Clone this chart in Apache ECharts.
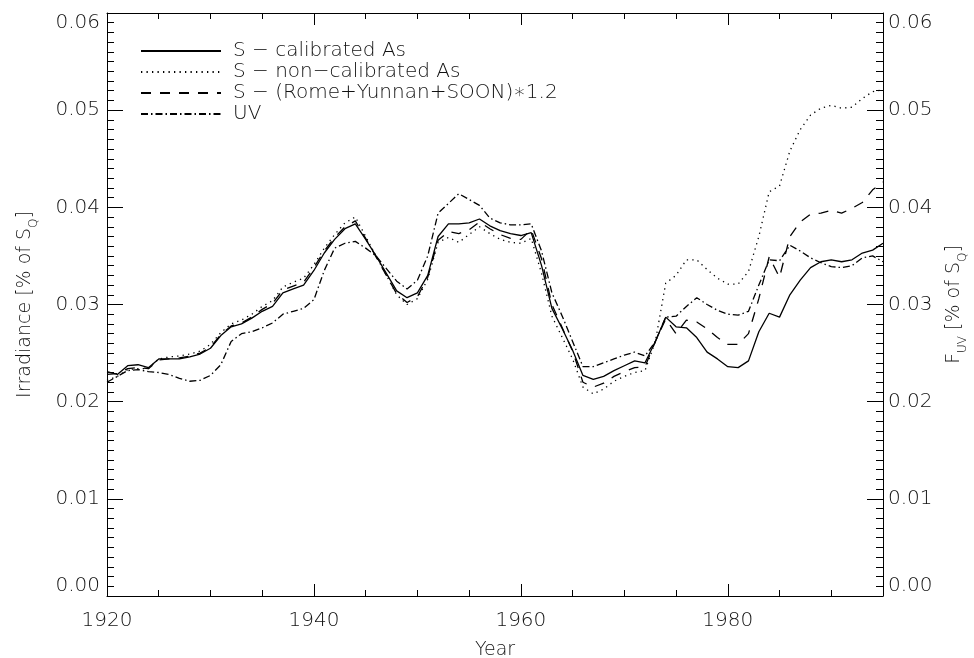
<!DOCTYPE html>
<html>
<head>
<meta charset="utf-8">
<script src="https://cdn.jsdelivr.net/npm/echarts@6/dist/echarts.min.js"></script>
<style>
html,body{margin:0;padding:0;background:#fff;}
#chart{width:974px;height:658px;}
</style>
</head>
<body>
<div id="chart"></div>
<script>
var years = [];
for (var y = 1920; y <= 1995; y++) years.push(y);

var sCalibrated = [
0.0231,0.0228,0.0237,0.0238,0.0235,0.0244,0.0244,0.0244,0.0246,0.0249,
0.0255,0.0268,0.0277,0.0280,0.0286,0.0293,0.0298,0.0312,0.0316,0.0320,
0.0335,0.0353,0.0367,0.0378,0.0383,0.0367,0.0350,0.0332,0.0314,0.0307,
0.0312,0.0330,0.0370,0.0383,0.0383,0.0384,0.0388,0.0381,0.0376,0.0373,
0.0371,0.0374,0.0340,0.0296,0.0275,0.0253,0.0227,0.0223,0.0226,0.0232,
0.0237,0.0242,0.0240,0.0262,0.0287,0.0277,0.0276,0.0266,0.0251,0.0244,
0.0236,0.0235,0.0242,0.0272,0.0291,0.0287,0.0310,0.0325,0.0338,0.0344,
0.0346,0.0344,0.0346,0.0353,0.0356,0.0363];

var sNonCalibrated = [
0.0222,0.0226,0.0233,0.0234,0.0234,0.0244,0.0246,0.0247,0.0249,0.0252,
0.0259,0.0271,0.0280,0.0284,0.0290,0.0298,0.0304,0.0318,0.0323,0.0327,
0.0341,0.0358,0.0372,0.0384,0.0390,0.0370,0.0350,0.0330,0.0310,0.0300,
0.0306,0.0326,0.0364,0.0369,0.0364,0.0372,0.0380,0.0373,0.0367,0.0364,
0.0363,0.0368,0.0332,0.0288,0.0266,0.0244,0.0215,0.0208,0.0213,0.0221,
0.0226,0.0230,0.0232,0.0262,0.0322,0.0330,0.0346,0.0346,0.0336,0.0327,
0.0321,0.0321,0.0334,0.0370,0.0416,0.0422,0.0458,0.0480,0.0495,0.0502,
0.0505,0.0502,0.0503,0.0512,0.0519,0.0521];

var sRome = [
0.0228,0.0229,0.0234,0.0235,0.0234,0.0243,0.0244,0.0245,0.0247,0.0250,
0.0256,0.0269,0.0278,0.0281,0.0287,0.0295,0.0301,0.0315,0.0319,0.0323,
0.0338,0.0355,0.0369,0.0380,0.0386,0.0368,0.0349,0.0330,0.0311,0.0302,
0.0308,0.0328,0.0366,0.0375,0.0373,0.0377,0.0385,0.0378,0.0372,0.0368,
0.0367,0.0377,0.0347,0.0300,0.0276,0.0252,0.0220,0.0215,0.0219,0.0226,
0.0231,0.0235,0.0236,0.0262,0.0285,0.0270,0.0284,0.0282,0.0275,0.0266,
0.0259,0.0259,0.0270,0.0306,0.0349,0.0328,0.0370,0.0385,0.0393,0.0394,
0.0397,0.0394,0.0399,0.0405,0.0418,0.0426];

var uv = [
0.0220,0.0226,0.0232,0.0233,0.0231,0.0230,0.0228,0.0224,0.0221,0.0222,
0.0227,0.0238,0.0262,0.0270,0.0272,0.0276,0.0281,0.0290,0.0293,0.0296,
0.0305,0.0335,0.0358,0.0363,0.0365,0.0358,0.0350,0.0337,0.0324,0.0316,
0.0325,0.0350,0.0394,0.0404,0.0414,0.0408,0.0402,0.0389,0.0384,0.0382,
0.0382,0.0383,0.0355,0.0312,0.0288,0.0262,0.0236,0.0236,0.0240,0.0244,
0.0248,0.0251,0.0247,0.0262,0.0287,0.0288,0.0298,0.0307,0.0300,0.0294,
0.0290,0.0289,0.0293,0.0320,0.0346,0.0345,0.0361,0.0355,0.0348,0.0343,
0.0339,0.0338,0.0340,0.0348,0.0350,0.0344];

var seriesNames = ['S \u2212 calibrated As','S \u2212 non\u2212calibrated As','S \u2212 (Rome+Yunnan+SOON)\u22171.2','UV'];
var xTicks = [1920, 1940, 1960, 1980];

function pairs(arr){ return years.map(function(yr,i){ return [yr, arr[i]]; }); }

var FONT = "'DejaVu Sans'";
var FW = 200;
var TXT = '#111';
var chart = echarts.init(document.getElementById('chart'), null, {renderer:'canvas'});

var yLabel = {fontFamily:FONT, fontWeight:FW, fontSize:20, color:TXT,
  verticalAlignMinLabel:'bottom', verticalAlignMaxLabel:'top',
  formatter:function(v){return v.toFixed(2);}};

var yCommon = {
  type:'value', min:0, max:0.06, interval:0.01,
  axisLine:{show:true, lineStyle:{color:'#000', width:1}},
  axisTick:{show:true, inside:true, length:16, lineStyle:{color:'#000'}},
  minorTick:{show:true, splitNumber:10, length:7, lineStyle:{color:'#000'}},
  splitLine:{show:false},
  nameLocation:'middle', nameRotate:90
};

var richBase = {
  n:{fontFamily:FONT, fontWeight:FW, fontSize:19, color:TXT, lineHeight:30, verticalAlign:'middle'},
  s:{fontFamily:FONT, fontWeight:FW, fontSize:12, color:TXT, lineHeight:30, verticalAlign:'bottom'}
};

function lineSeries(name, data, type){
  return {
    name:name, type:'line', data:pairs(data), symbol:'none', showSymbol:false,
    lineStyle:{color:'#000', width:1.3, type:type}, itemStyle:{color:'#000'},
    animation:false, silent:true
  };
}

chart.setOption({
  backgroundColor:'#fff',
  animation:false,
  grid:{left:107, right:91, top:13, bottom:62, containLabel:false, outerBoundsMode:'none'},
  legend:{
    orient:'vertical', left:140, top:41, padding:0, itemWidth:80, itemHeight:14, itemGap:1,
    selectedMode:false,
    itemStyle:{opacity:0, borderWidth:0},
    textStyle:{fontFamily:FONT, fontWeight:FW, fontSize:20, color:TXT, padding:[0,0,0,7]},
    data:seriesNames
  },
  xAxis:[{
    type:'value', min:1920, max:1995, interval:20, position:'bottom',
    axisLine:{show:true, onZero:false, lineStyle:{color:'#000', width:1}},
    axisTick:{show:true, inside:true, length:12, lineStyle:{color:'#000'}},
    minorTick:{show:true, splitNumber:4, length:6, lineStyle:{color:'#000'}},
    splitLine:{show:false},
    axisLabel:{fontFamily:FONT, fontWeight:FW, fontSize:20, color:TXT, margin:15,
      formatter:function(v){ return xTicks.indexOf(v) >= 0 ? String(v) : ''; }},
    name:'Year', nameLocation:'middle', nameGap:45,
    nameTextStyle:{fontFamily:FONT, fontWeight:FW, fontSize:19, color:TXT}
  },{
    type:'value', min:1920, max:1995, interval:20, position:'top',
    axisLine:{show:true, onZero:false, lineStyle:{color:'#000', width:1}},
    axisTick:{show:true, inside:true, length:12, lineStyle:{color:'#000'}},
    minorTick:{show:true, splitNumber:4, length:6, lineStyle:{color:'#000'}},
    splitLine:{show:false}, axisLabel:{show:false}
  }],
  yAxis:[
    Object.assign({}, yCommon, {position:'left', name:'{n|Irradiance [% of S}{s|Q}{n|]}', nameGap:67,
      axisLabel:Object.assign({}, yLabel, {margin:7}),
      nameTextStyle:{rich:richBase}}),
    Object.assign({}, yCommon, {position:'right', name:'{n|F}{s|UV}{n| [% of S}{s|Q}{n|]}', nameGap:56,
      axisLabel:Object.assign({}, yLabel, {margin:5}),
      nameTextStyle:{rich:richBase}})
  ],
  series:[
    lineSeries(seriesNames[0], sCalibrated, 'solid'),
    lineSeries(seriesNames[1], sNonCalibrated, [1.3,4.2]),
    lineSeries(seriesNames[2], sRome, [10,9]),
    lineSeries(seriesNames[3], uv, [7,3,1.5,3])
  ]
});
</script>
</body>
</html>
